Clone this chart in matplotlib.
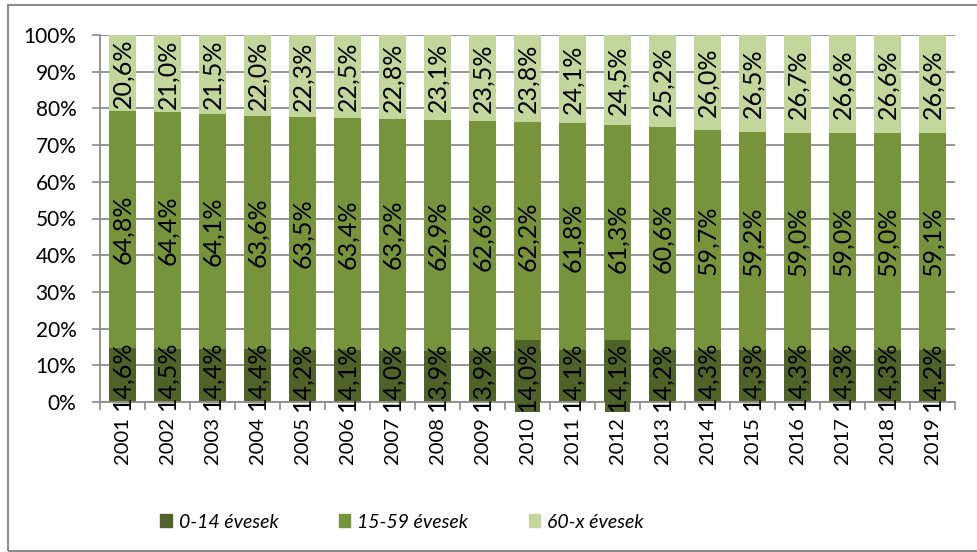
import matplotlib.pyplot as plt
import matplotlib.patches as mpatches
import numpy as np

years = [str(y) for y in range(2001, 2020)]
young = [14.6, 14.5, 14.4, 14.4, 14.2, 14.1, 14.0, 13.9, 13.9, 14.0,
         14.1, 14.1, 14.2, 14.3, 14.3, 14.3, 14.3, 14.3, 14.2]
middle = [64.8, 64.4, 64.1, 63.6, 63.5, 63.4, 63.2, 62.9, 62.6, 62.2,
          61.8, 61.3, 60.6, 59.7, 59.2, 59.0, 59.0, 59.0, 59.1]
old = [20.6, 21.0, 21.5, 22.0, 22.3, 22.5, 22.8, 23.1, 23.5, 23.8,
       24.1, 24.5, 25.2, 26.0, 26.5, 26.7, 26.6, 26.6, 26.6]
series_names = ['0-14 évesek', '15-59 évesek', '60-x évesek']
boxed_labels = ['2010', '2012']

dark = '#4f6228'
mid = '#77933c'
light = '#c3d69b'
grid_col = '#8c8c8c'

plt.rcParams['font.family'] = ['Lato', 'DejaVu Sans']
tick_fs = 15
year_fs = 14.5
val_fs = 18
leg_fs = 14

fig = plt.figure(figsize=(9.77, 5.52), dpi=100)
ax = fig.add_axes([100 / 977, 150 / 552, 855 / 977, 367 / 552])

x = np.arange(len(years))
w = 0.58
young_a = np.array(young)
middle_a = np.array(middle)
old_a = np.array(old)
ax.bar(x, young_a, w, color=dark, zorder=2, label=series_names[0])
ax.bar(x, middle_a, w, bottom=young_a, color=mid, zorder=2, label=series_names[1])
ax.bar(x, old_a, w, bottom=young_a + middle_a, color=light, zorder=2, label=series_names[2])


def fmt(v):
    return ('%.1f%%' % v).replace('.', ',')


for i in range(len(years)):
    kw = dict(rotation=90, ha='center', va='center', fontsize=val_fs,
              color='black', zorder=4, clip_on=False)
    box = None
    if years[i] in boxed_labels:
        box = dict(boxstyle='square,pad=0.05', fc=dark, ec='none')
    ax.text(x[i], young_a[i] / 2, fmt(young[i]), bbox=box, **kw)
    ax.text(x[i], young_a[i] + middle_a[i] / 2, fmt(middle[i]), **kw)
    ax.text(x[i], young_a[i] + middle_a[i] + old_a[i] / 2, fmt(old[i]), **kw)

ax.set_xlim(-0.5, len(years) - 0.5)
ax.set_ylim(0, 100)
ax.set_yticks(np.arange(0, 101, 10))
ax.set_yticklabels(['%d%%' % v for v in range(0, 101, 10)], fontsize=tick_fs)
ax.set_xticks(x)
ax.set_xticklabels(years, rotation=90, fontsize=year_fs)
ax.set_xticks(np.arange(-0.5, len(years), 1), minor=True)
ax.tick_params(axis='x', which='major', length=0, pad=11)
ax.tick_params(axis='x', which='minor', length=6, color=grid_col, width=1.2)
ax.tick_params(axis='y', length=6, color=grid_col, width=1.2, pad=11)
ax.yaxis.grid(True, color=grid_col, linewidth=1.3, zorder=0)
ax.set_axisbelow(True)
for s in ['top', 'right']:
    ax.spines[s].set_visible(False)
for s in ['left', 'bottom']:
    ax.spines[s].set_color(grid_col)
    ax.spines[s].set_linewidth(1.3)

handles = [mpatches.Patch(color=c) for c in (dark, mid, light)]
fig.legend(handles, series_names, loc='center', ncol=3,
           bbox_to_anchor=(402 / 977, 1 - 522 / 552), frameon=False,
           prop={'style': 'italic', 'size': leg_fs}, handlelength=0.6,
           handleheight=0.6, handletextpad=0.35, columnspacing=3.1)

fig.patches.append(mpatches.Rectangle((8 / 977, 1 / 552), 1.0, 546 / 552,
                                      transform=fig.transFigure, fill=False,
                                      ec='#8c8c8c', lw=1.5))

fig.savefig('out.png', dpi=100)
